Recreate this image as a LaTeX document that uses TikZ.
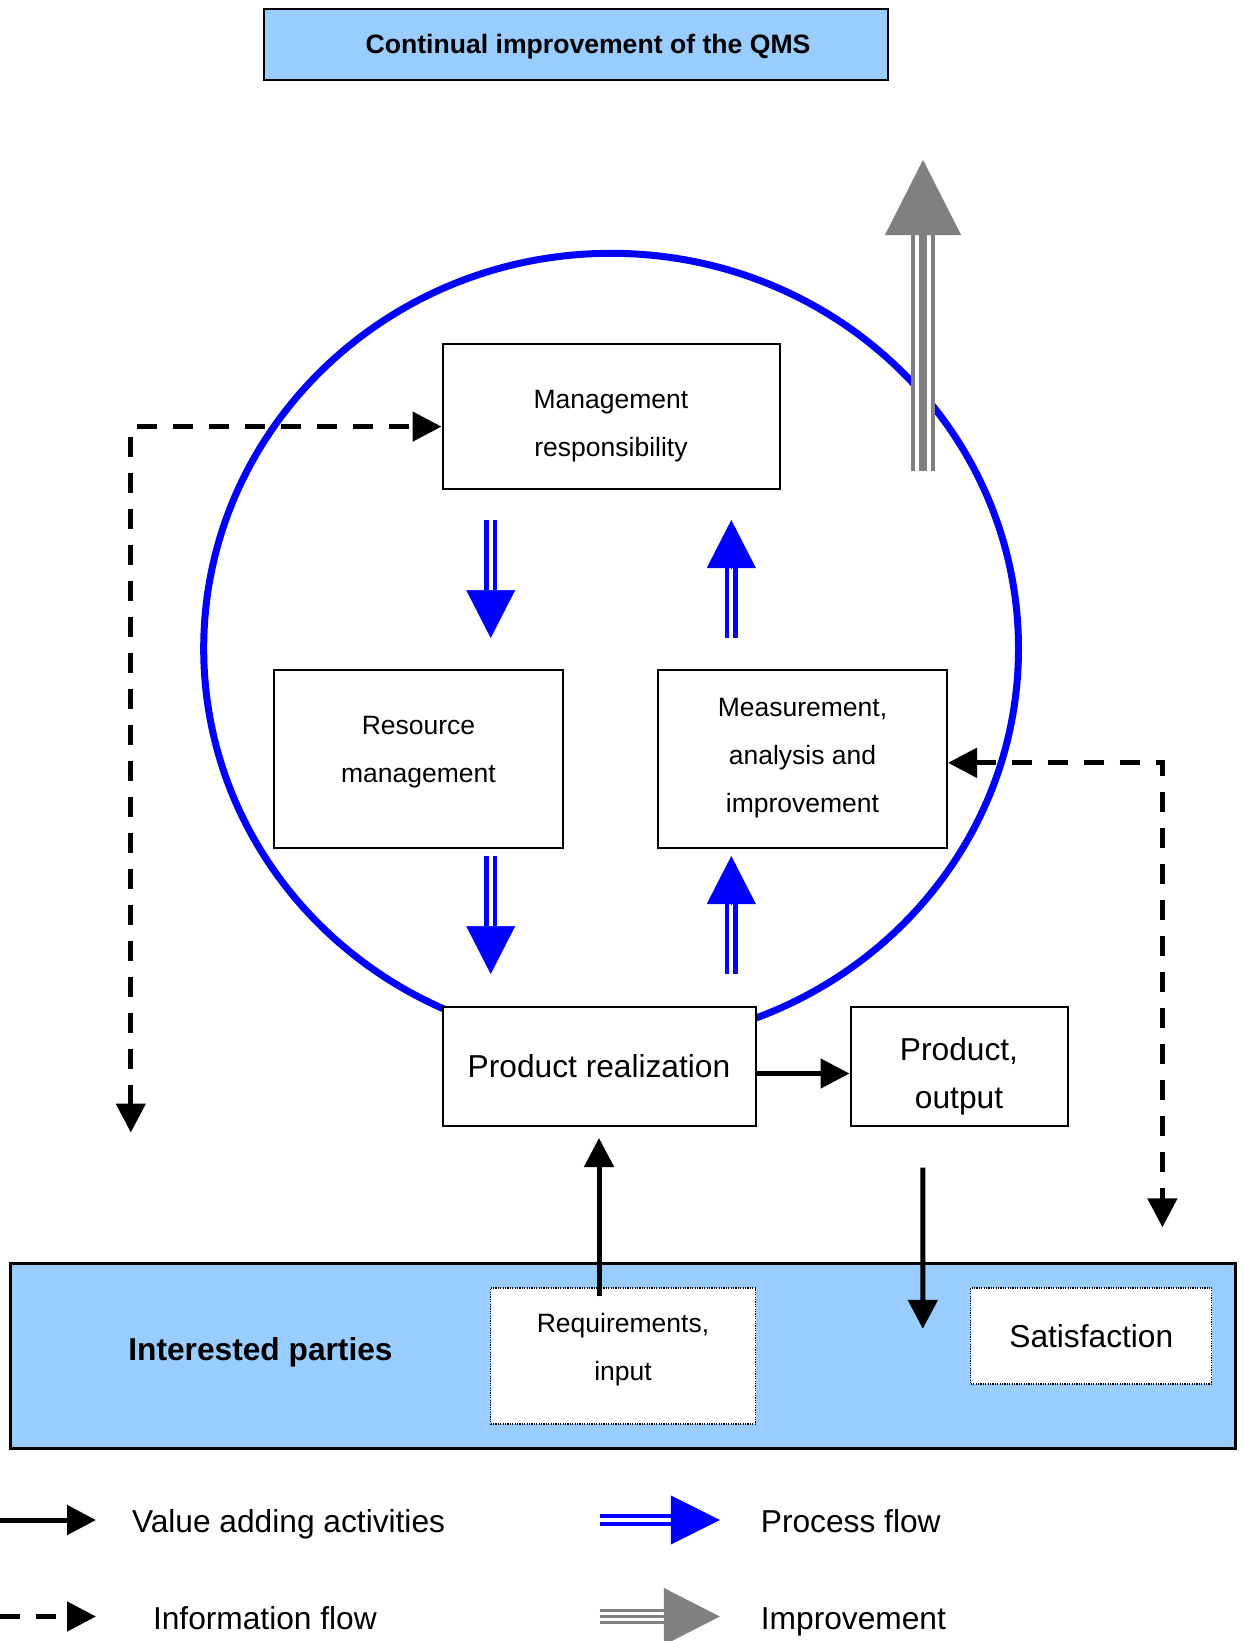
\documentclass[tikz,border=0pt]{standalone}
\usepackage{fontspec}
\setmainfont{Liberation Sans}
\usetikzlibrary{arrows.meta, calc}

\definecolor{qblue}{RGB}{0,0,255}
\definecolor{qsky}{RGB}{153,204,255}
\definecolor{qgray}{RGB}{128,128,128}

\tikzset{
  qbox/.style={draw, line width=2pt, fill=white, align=center, inner sep=0pt},
  dotbox/.style={draw, line width=1.2pt, dash pattern=on 1.2pt off 1.2pt, fill=white, align=center, inner sep=0pt},
  txt/.style={font=\fontsize{26.5}{48}\selectfont, align=center},
  bigtxt/.style={font=\fontsize{31.7}{48}\selectfont, align=center},
  valueflow/.style={line width=5pt, >={Triangle[width=29pt,length=29pt]}},
  infoflow/.style={line width=5pt, dash pattern=on 20pt off 16pt, >={Triangle[width=29pt,length=29pt]}},
  procline/.style={qblue, line width=4.3pt, double=white, double distance=4.3pt},
  prochead/.style={qblue, line width=0.5pt},
}

% double blue arrow: [head length]{from}{to}
\newcommand{\procflow}[3][48]{%
  \draw[procline, shorten >=#1pt] (#2) -- (#3);
  \draw[prochead, -{Triangle[width=49pt,length=#1pt]}] ($(#3)!#1pt!(#2)$) -- (#3);}

\begin{document}
\begin{tikzpicture}[x=1pt, y=-1pt]
  \useasboundingbox (0,0) rectangle (1244,1641);

  % QMS loop
  \draw[qblue, line width=7pt] (611.1,648.5) ellipse [x radius=407.4pt, y radius=395.2pt];

  \node[qbox, fill=qsky, minimum width=624pt, minimum height=71pt] (title) at (576,44) {};
  \node[font=\fontsize{26.6}{32}\selectfont\bfseries] (titletxt) at (588,47) {Continual improvement of the QMS};

  \node[qbox, minimum width=337pt, minimum height=145pt] (mgmt) at (611,416) {};
  \node[txt] (mgmttxt) at (611,426.5) {Management\\responsibility};
  \node[qbox, minimum width=289pt, minimum height=178pt] (res) at (418.5,758.5) {};
  \node[txt] (restxt) at (418.5,752) {Resource\\management};
  \node[qbox, txt, minimum width=289pt, minimum height=178pt] (meas) at (802.5,758.5) {Measurement,\\analysis and\\improvement};
  \node[qbox, bigtxt, minimum width=313pt, minimum height=119pt] (prod) at (599,1066) {Product realization};
  \node[qbox, minimum width=217pt, minimum height=119pt] (output) at (959,1066) {};
  \node[bigtxt] (outputtxt) at (959,1076.5) {Product,\\output};

  % interested parties
  \node[draw, line width=3pt, fill=qsky, minimum width=1225pt, minimum height=185pt] (parties) at (623,1355.5) {};
  \node[font=\fontsize{31.7}{38}\selectfont\bfseries] (partlabel) at (260.5,1352) {Interested parties};
  \node[dotbox, minimum width=265pt, minimum height=136pt] (req) at (623,1356) {};
  \node[txt] (reqtxt) at (623,1349.5) {Requirements,\\input};
  \node[dotbox, bigtxt, minimum width=241pt, minimum height=96pt] (sat) at (1091.3,1336) {Satisfaction};

  % process flow
  \coordinate (mr0) at (490.7,520);  \coordinate (mr1) at (490.7,638);
  \coordinate (rp0) at (490.7,856);  \coordinate (rp1) at (490.7,974);
  \coordinate (pm0) at (731.3,974);  \coordinate (pm1) at (731.3,856);
  \coordinate (mm0) at (731.3,638);  \coordinate (mm1) at (731.3,520);
  \procflow{mr0}{mr1}
  \procflow{rp0}{rp1}
  \procflow{pm0}{pm1}
  \procflow{mm0}{mm1}

  % value adding activities
  \coordinate (outdown) at (922.8,1328.8);
  \draw[valueflow, ->] ([yshift=-7.5pt]prod.east) -- ([yshift=-7.5pt]output.west);
  \draw[valueflow, ->, shorten <=-9pt, shorten >=11.5pt] (req.north -| prod.south) -- (prod.south);
  \draw[valueflow, ->, shorten <=41pt] ([xshift=-36pt]output.south) -- (outdown);

  % information flow
  \coordinate (infoleft) at (130.8,1132.5);
  \coordinate (inforight) at (1162.4,1227.3);
  \draw[infoflow, <->] (infoleft) |- ([yshift=-10.6pt]mgmt.west);
  \draw[infoflow, <->] ([yshift=-4.3pt]meas.east) -| (inforight);

  % improvement
  \coordinate (impfoot) at (923,471);
  \coordinate (imptip) at (923,160);
  \draw[qgray, line width=4.3pt, double=white, double distance=16pt, shorten >=75pt] (impfoot) -- (imptip);
  \draw[qgray, line width=8pt, shorten >=75pt] (impfoot) -- (imptip);
  \draw[qgray, line width=0.5pt, -{Triangle[width=76pt,length=75pt]}] ($(imptip)!75pt!(impfoot)$) -- (imptip);

  % legend
  \coordinate (lv0) at (0,1520);      \coordinate (lv1) at (96,1520);
  \coordinate (lp0) at (599.5,1520);  \coordinate (lp1) at (719.8,1520);
  \coordinate (li0) at (0,1616.5);    \coordinate (li1) at (96,1616.5);
  \coordinate (lm0) at (599.5,1616.5); \coordinate (lm1) at (719.8,1616.5);
  \draw[valueflow, ->] (lv0) -- (lv1);
  \node[bigtxt, anchor=base west, inner sep=0pt] (lvalue) at (131.8,1532.5) {Value adding activities};
  \procflow[49]{lp0}{lp1}
  \node[bigtxt, anchor=base west, inner sep=0pt] (lprocess) at (760.7,1532.5) {Process flow};
  \draw[infoflow, ->] (li0) -- (li1);
  \node[bigtxt, anchor=base west, inner sep=0pt] (linfo) at (152.8,1629) {Information flow};
  \draw[qgray, line width=3pt, double=white, double distance=9.5pt, shorten >=56pt] (lm0) -- (lm1);
  \draw[qgray, line width=3.5pt, shorten >=56pt] (lm0) -- (lm1);
  \draw[qgray, line width=0.5pt, -{Triangle[width=57pt,length=56pt]}] ($(lm1)!56pt!(lm0)$) -- (lm1);
  \node[bigtxt, anchor=base west, inner sep=0pt] (limprove) at (760.7,1629) {Improvement};
\end{tikzpicture}
\end{document}
